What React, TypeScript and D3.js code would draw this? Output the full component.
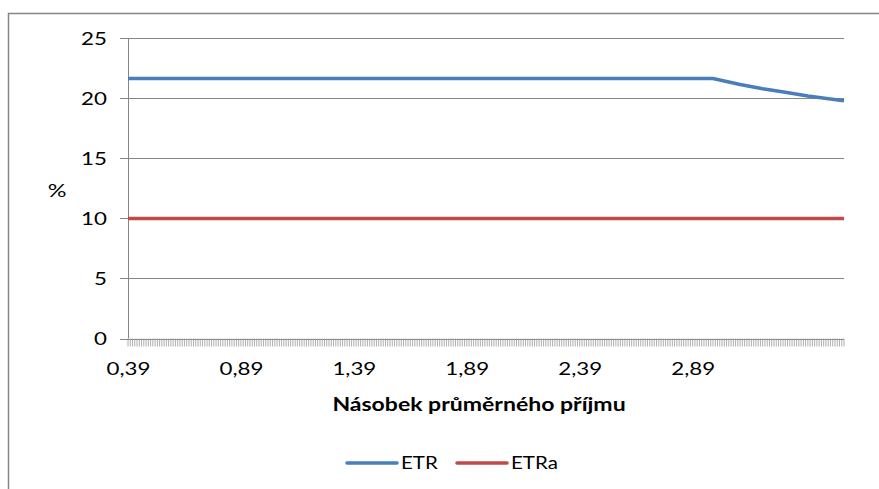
import React from "react";
import * as d3 from "d3";

const xStart = 0.39;
const xEnd = 3.56;
const xStep = 0.01;
const xLabelValues = [0.39, 0.89, 1.39, 1.89, 2.39, 2.89];
const yTicks = [0, 5, 10, 15, 20, 25];

const etrX = [0.39, 2.98, 3.1, 3.2, 3.3, 3.4, 3.5, 3.56];
const etrY = [21.65, 21.65, 21.15, 20.8, 20.5, 20.2, 19.95, 19.8];
const etraX = [0.39, 3.56];
const etraY = [10, 10];

const seriesNames = ["ETR", "ETRa"];
const seriesColors = ["#4A7EBB", "#BE4B48"];

const FONT = "Lato, 'Open Sans', sans-serif";

function SText({ x, y, sx = 1.24, anchor = "middle", size = 18, weight = 400, children }: any) {
  return (
    <g transform={`translate(${x},${y}) scale(${sx},1)`}>
      <text textAnchor={anchor} fontSize={size} fontWeight={weight} fontFamily={FONT} fill="#000">
        {children}
      </text>
    </g>
  );
}

export default function App() {
  const left = 128, right = 844, top = 38.3, bottom = 338.5;
  const x = d3.scaleLinear().domain([xStart, xEnd]).range([left, right]);
  const y = d3.scaleLinear().domain([0, 25]).range([bottom, top]);
  const line = d3.line<[number, number]>().x(d => x(d[0])).y(d => y(d[1]));
  const etr = etrX.map((v, i) => [v, etrY[i]] as [number, number]);
  const etra = etraX.map((v, i) => [v, etraY[i]] as [number, number]);
  const nCat = Math.round((xEnd - xStart) / xStep);
  const catTicks = d3.range(nCat + 1).map(i => xStart + i * xStep);
  const grid = "#868686";

  return (
    <svg width={879} height={489} style={{ position: "absolute", left: 0, top: 0, background: "#fff" }}>
      <rect x={8.5} y={13.5} width={1000} height={600} fill="#fff" stroke={grid} strokeWidth={1.5} />
      {yTicks.map(t => (
        <g key={t}>
          <line x1={left - 8} x2={right} y1={Math.round(y(t)) + 0.5} y2={Math.round(y(t)) + 0.5} stroke={grid} strokeWidth={1} />
          <SText x={107} y={y(t) + 6.5} anchor="end">{String(t)}</SText>
        </g>
      ))}
      <line x1={left + 0.5} x2={left + 0.5} y1={top} y2={bottom} stroke={grid} strokeWidth={1} />
      {catTicks.map((c, i) => (
        <line key={i} x1={x(c)} x2={x(c)} y1={bottom} y2={bottom + 8} stroke="#9a9a9a" strokeWidth={0.8} />
      ))}
      {xLabelValues.map(v => (
        <SText key={v} x={x(v) + 0.5} y={375}>{v.toFixed(2).replace(".", ",")}</SText>
      ))}
      <path d={line(etra) || ""} fill="none" stroke={seriesColors[1]} strokeWidth={3.5} />
      <path d={line(etr) || ""} fill="none" stroke={seriesColors[0]} strokeWidth={3.5} strokeLinejoin="round" />
      <SText x={57} y={197} sx={1.3}>%</SText>
      <SText x={479} y={411} weight={700} sx={1.28}>Násobek průměrného příjmu</SText>
      {seriesNames.map((n, i) => {
        const lx = 347 + i * 110;
        return (
          <g key={n}>
            <line x1={lx} x2={lx + 50} y1={463} y2={463} stroke={seriesColors[i]} strokeWidth={3.5} strokeLinecap="round" />
            <SText x={lx + 54} y={469} anchor="start" sx={1.14}>{n}</SText>
          </g>
        );
      })}
    </svg>
  );
}
